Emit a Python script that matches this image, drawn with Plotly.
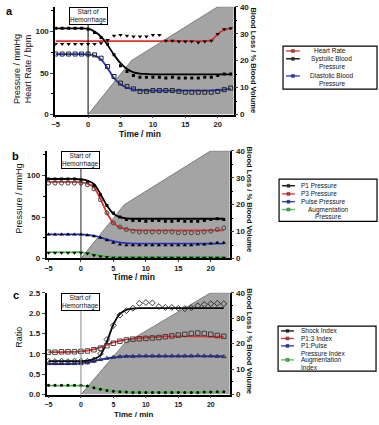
import plotly.graph_objects as go

W, H = 379, 425

# ---------------- data ----------------
t = list(range(-5, 23))

# blood loss (% blood volume)
bl_t = [0, 6.67, 20, 23]
bl_v = [0, 20, 40, 40]

# panel a
hr_obs = [85, 85, 85, 85, 85, 85, 85, 86, 90, 95, 96, 95, 94, 94, 94, 96, 96, 89, 89, 88, 88, 88, 87, 88, 89, 97, 103, 104]
hr_fit = [88.5, 88.5, 88.5, 88.5, 88.5, 88.5, 88.5, 88.5, 88.5, 88.5, 88.5, 88.5, 88.5, 88.5, 88.5, 88.5, 88.5, 88.5, 88.5, 88.5, 88.5, 88.5, 88.5, 88.5, 89.5, 97, 102.5, 103]
sys_obs = [104, 104, 104, 104, 104, 103, 99, 93, 85, 72, 59, 52, 47, 45, 45, 45, 45, 44, 45, 44, 44, 44, 44, 45, 45, 47, 49, 49]
sys_fit = [104, 104, 104, 104, 104, 103.5, 100, 94, 84, 72, 62, 55, 51, 49.5, 49, 48.5, 48.5, 48.5, 48.5, 48.5, 48.5, 48.5, 48.5, 48.5, 48.5, 48.5, 48.5, 48.5]
dia_obs = [73, 73, 73, 73, 73, 73, 72, 68, 58, 46, 38, 34, 31, 28, 28, 29, 29, 29, 29, 28, 27, 27, 27, 27, 27, 28, 30, 32]
dia_fit = [73, 73, 73, 73, 73, 72.5, 71, 66.5, 56, 44, 36.5, 32.5, 30.5, 29.5, 29, 29, 29, 29, 29, 29, 29, 29, 29, 29, 29, 29.5, 30, 31]

# panel b
p1_obs = [96, 96, 96, 96, 96, 95, 93, 88, 77, 64, 55, 50, 47, 46, 46, 45, 46, 46, 45, 45, 46, 45, 45, 45, 46, 47, 48, 47]
p1_fit = [96, 96, 96, 96, 96, 95.5, 94, 90, 78, 64, 54, 50, 48.5, 48, 48, 48, 48, 48, 48, 48, 48, 48, 48, 48, 48, 48, 48, 48]
p3_obs = [91, 91, 91, 91, 91, 91, 89, 84, 71, 55, 43, 38, 35, 33, 32, 32, 32, 32, 32, 32, 31, 31, 31, 31, 32, 33, 35, 37]
p3_fit = [92.5, 92.5, 92.5, 92.5, 92.5, 92, 90.5, 86, 72, 55, 43, 37.5, 35.5, 34.5, 34, 34, 34, 34, 34, 34, 34, 34, 34, 34, 34, 34, 34, 34]
pp_obs = [29, 29, 29, 29, 29, 29, 28, 27, 25, 22, 19, 17, 16, 16, 16, 16, 16, 16, 16, 16, 16, 16, 16, 17, 17, 18, 19, 19]
pp_fit = [29, 29, 29, 29, 29, 29, 28.5, 27.5, 25.5, 23, 21, 19.5, 18.5, 18, 18, 18, 18, 18, 18, 18, 18, 18, 18, 18, 18, 18, 18, 18]
ap_obs = [7, 7, 7, 7, 7, 7, 6, 4, 2.5, 1.5, 1, 1, 1, 1, 1, 1, 1, 1, 1, 1, 1, 1, 1, 1, 1, 1, 1, 1]
ap_fit = [7.5, 7.5, 7.5, 7.5, 7.5, 7.5, 6.5, 5, 3.5, 2.5, 2, 1.5, 1.5, 1.5, 1.5, 1.5, 1.5, 1.5, 1.5, 1.5, 1.5, 1.5, 1.5, 1.5, 1.5, 1.5, 1.5, 1.5]

# panel c
si_obs = [0.82, 0.81, 0.82, 0.81, 0.82, 0.82, 0.82, 0.85, 1.0, 1.35, 1.7, 1.95, 2.06, 2.12, 2.24, 2.26, 2.25, 2.16, 2.14, 2.14, 2.12, 2.11, 2.13, 2.18, 2.21, 2.23, 2.24, 2.23]
si_fit = [0.82, 0.82, 0.82, 0.82, 0.82, 0.82, 0.83, 0.87, 0.97, 1.3, 1.72, 1.98, 2.08, 2.11, 2.12, 2.12, 2.12, 2.12, 2.12, 2.12, 2.12, 2.12, 2.12, 2.12, 2.12, 2.12, 2.12, 2.12]
p13_obs = [1.04, 1.04, 1.05, 1.05, 1.05, 1.06, 1.07, 1.1, 1.14, 1.2, 1.26, 1.31, 1.34, 1.36, 1.37, 1.38, 1.39, 1.4, 1.42, 1.44, 1.46, 1.48, 1.5, 1.51, 1.5, 1.48, 1.45, 1.43]
p13_fit = [1.04, 1.04, 1.04, 1.05, 1.05, 1.06, 1.08, 1.11, 1.16, 1.22, 1.28, 1.32, 1.35, 1.37, 1.39, 1.4, 1.41, 1.42, 1.43, 1.43, 1.43, 1.43, 1.43, 1.43, 1.43, 1.42, 1.42, 1.42]
pi_obs = [0.76, 0.76, 0.76, 0.76, 0.76, 0.76, 0.78, 0.82, 0.86, 0.89, 0.92, 0.93, 0.94, 0.94, 0.95, 0.95, 0.95, 0.95, 0.95, 0.95, 0.95, 0.95, 0.95, 0.96, 0.95, 0.95, 0.94, 0.93]
pi_fit = [0.75, 0.75, 0.75, 0.75, 0.76, 0.77, 0.79, 0.82, 0.86, 0.89, 0.91, 0.93, 0.94, 0.94, 0.94, 0.94, 0.94, 0.94, 0.94, 0.94, 0.94, 0.94, 0.94, 0.94, 0.94, 0.94, 0.94, 0.94]
ai_obs = [0.23, 0.23, 0.23, 0.23, 0.23, 0.23, 0.21, 0.17, 0.13, 0.1, 0.08, 0.07, 0.06, 0.05, 0.05, 0.05, 0.05, 0.05, 0.05, 0.05, 0.05, 0.05, 0.05, 0.05, 0.06, 0.06, 0.07, 0.07]
ai_fit = [0.22, 0.22, 0.22, 0.22, 0.22, 0.22, 0.2, 0.17, 0.14, 0.11, 0.09, 0.075, 0.065, 0.06, 0.06, 0.06, 0.06, 0.06, 0.06, 0.06, 0.06, 0.06, 0.06, 0.06, 0.06, 0.06, 0.06, 0.06]

x_ticks = [-5, 0, 5, 10, 15, 20]
bl_ticks = [0, 10, 20, 30, 40]

# ---------------- style ----------------
RED = "#e0312c"
BLUE = "#2234c4"
GREEN = "#45c445"
BLACK = "#000000"
FONT = "Liberation Sans"


def fx(p):
    return p / W


def fy(p):
    return 1 - p / H


panels = [
    dict(letter="a", x0=51.7, x1=232, top=2.8, bot=113, xr=[-5.08, 22.44], yl=[0, 130],
         ytv=[0, 50, 100], ytt=["0", "50", "100"], minor=25, vcolor="#000",
         ytitle="Pressure / mmHg<br>Heart Rate / bpm", ytx=18.5, yty=66,
         letter_xy=(6, 7), rty=58, xty=132.5, xanch="middle", xfs=8.5,
         series=[
             (hr_fit, hr_obs, RED, dict(symbol="triangle-down", size=4, color=BLACK), "Heart Rate"),
             (sys_fit, sys_obs, BLACK, dict(symbol="square", size=3, color=BLACK), "Systolic Blood Pressure"),
             (dia_fit, dia_obs, BLUE, dict(symbol="square-open", size=4, color="#222", line=dict(width=1)), "Diastolic Blood Pressure"),
         ]),
    dict(letter="b", x0=43, x1=228, top=150, bot=260, xr=[-5.3, 22.9], yl=[0, 130],
         ytv=[0, 50, 100], ytt=["0", "50", "100"], minor=25, vcolor="#222",
         ytitle="Pressure / mmHg", ytx=15, yty=199,
         letter_xy=(12, 155), rty=200, xty=279, xanch="middle", xfs=8.5,
         series=[
             (p1_fit, p1_obs, BLACK, dict(symbol="square", size=3, color=BLACK), "P1 Pressure"),
             (p3_fit, p3_obs, RED, dict(symbol="circle-open", size=4, color="#444", line=dict(width=1)), "P3 Pressure"),
             (pp_fit, pp_obs, BLUE, dict(symbol="triangle-up", size=4, color=BLACK), "Pulse Pressure"),
             (ap_fit, ap_obs, GREEN, dict(symbol="triangle-down", size=4, color=BLACK), "Augmentation Pressure"),
         ]),
    dict(letter="c", x0=43, x1=228, top=295, bot=399, xr=[-5.3, 22.9], yl=[0, 2.5],
         ytv=[0, 0.5, 1.0, 1.5, 2.0, 2.5], ytt=["0.0", "0.5", "1.0", "1.5", "2.0", "2.5"], minor=None, vcolor="#888",
         ytitle="Ratio", ytx=15, yty=340,
         letter_xy=(12, 297), rty=345, xty=425, xanch="bottom", xfs=8,
         series=[
             (si_fit, si_obs, BLACK, dict(symbol="diamond-open", size=4.5, color="#222", line=dict(width=0.9)), "Shock Index"),
             (p13_fit, p13_obs, RED, dict(symbol="square-open", size=4.5, color="#333", line=dict(width=0.9)), "P1:3 Index"),
             (pi_fit, pi_obs, BLUE, dict(symbol="triangle-up-open", size=4, color="#223", line=dict(width=0.9)), "P1:Pulse Pressure Index"),
             (ai_fit, ai_obs, GREEN, dict(symbol="circle", size=3, color=BLACK), "Augmentation Index"),
         ]),
]

fig = go.Figure()
layout = dict(width=W, height=H, margin=dict(l=0, r=0, t=0, b=0), paper_bgcolor="white",
              plot_bgcolor="rgba(0,0,0,0)", showlegend=False,
              font=dict(family=FONT, size=8, color="#111"))
shapes = []
annotations = []

tickfont = dict(family=FONT, size=8, color="#222", weight="bold")

for i, p in enumerate(panels):
    xn = "x" if i == 0 else f"x{i + 1}"
    yb = "y" if i == 0 else f"y{2 * i + 1}"
    yo = f"y{2 * i + 2}"
    xkey = "xaxis" if i == 0 else f"xaxis{i + 1}"
    ybkey = "yaxis" if i == 0 else f"yaxis{2 * i + 1}"
    yokey = f"yaxis{2 * i + 2}"

    layout[xkey] = dict(domain=[fx(p["x0"]), fx(p["x1"])], range=p["xr"], anchor=yb,
                        tickvals=x_ticks, ticks="outside", ticklen=2, tickwidth=1.2,
                        showline=True, linecolor="#000", linewidth=1.5, showgrid=False,
                        zeroline=False,
                        tickfont=dict(family=FONT, size=7.5 if i < 2 else 7, color="#222", weight="bold"))
    layout[ybkey] = dict(domain=[fy(p["bot"]), fy(p["top"])], range=[0, 40], anchor=xn,
                         side="right", tickvals=bl_ticks, ticks="outside", ticklen=3,
                         tickwidth=1.2, showline=True, linecolor="#000", linewidth=1.5,
                         showgrid=False, zeroline=False, tickfont=tickfont,
                         minor=dict(dtick=5, ticks="outside", ticklen=2, tickcolor="#000"))
    yo_ax = dict(overlaying=yb, range=p["yl"], anchor=xn, side="left",
                 tickvals=p["ytv"], ticktext=p["ytt"], ticks="outside", ticklen=3,
                 tickwidth=1.2, showline=True, linecolor="#000", linewidth=1.5,
                 showgrid=False, zeroline=False, tickfont=tickfont)
    if p["minor"]:
        yo_ax["minor"] = dict(dtick=p["minor"], ticks="outside", ticklen=2, tickcolor="#000")
    layout[yokey] = yo_ax

    # blood loss area (right axis)
    fig.add_trace(go.Scatter(x=bl_t, y=bl_v, xaxis=xn, yaxis=yb, mode="lines",
                             fill="tozeroy", fillcolor="#a4a4a4",
                             line=dict(color="#6a6a6a", width=0.8), hoverinfo="skip"))
    # fitted lines
    for fit, obs, col, mk, name in p["series"]:
        fig.add_trace(go.Scatter(x=t, y=fit, xaxis=xn, yaxis=yo, mode="lines", name=name,
                                 line=dict(color=col, width=1.8, shape="spline", smoothing=0.8)))
    for fit, obs, col, mk, name in p["series"]:
        fig.add_trace(go.Scatter(x=t, y=obs, xaxis=xn, yaxis=yo, mode="markers", name=name,
                                 marker=mk))

    # vertical hemorrhage line
    shapes.append(dict(type="line", xref=xn, yref=f"{yb} domain", x0=0, x1=0, y0=0, y1=1,
                       line=dict(color=p["vcolor"], width=1), layer="above"))
    annotations.append(dict(x=0, y=1, xref=xn, yref=f"{yb} domain", xanchor="center",
                            yanchor="top", text="Start of<br>Hemorrhage", showarrow=False,
                            font=dict(family=FONT, size=6.5, color="#111"), bgcolor="white",
                            bordercolor="#000", borderwidth=1, borderpad=0))
    # panel letter
    annotations.append(dict(x=fx(p["letter_xy"][0]), y=fy(p["letter_xy"][1]), xref="paper", yref="paper",
                            text=f"<b>{p['letter']}</b>", showarrow=False, xanchor="center",
                            yanchor="middle", font=dict(family=FONT, size=11, color="#000")))
    # left y title
    annotations.append(dict(x=fx(p["ytx"]), y=fy(p["yty"]), xref="paper", yref="paper",
                            text=p["ytitle"], showarrow=False, textangle=-90, xanchor="center",
                            yanchor="middle", font=dict(family=FONT, size=9, color="#111")))
    # right y title
    annotations.append(dict(x=fx(p["x1"] + 20), y=fy(p["rty"]), xref="paper", yref="paper",
                            text="<b>Blood Loss / % Blood Volume</b>", showarrow=False, textangle=90,
                            xanchor="center", yanchor="middle",
                            font=dict(family=FONT, size=7.5, color="#111")))
    # x title
    annotations.append(dict(x=fx((p["x0"] + p["x1"]) / 2 - 4), y=fy(p["xty"]), xref="paper", yref="paper",
                            text="<b>Time / min</b>", showarrow=False, xanchor="center",
                            yanchor=p["xanch"], borderpad=0,
                            font=dict(family=FONT, size=p["xfs"], color="#111")))

# ---------------- legends (drawn manually) ----------------
# (text lines, colour, symbol y, text x, first text line y, alignment)
legends = [
    dict(box=(282, 43, 377, 87), sx=(285, 299), entries=[
        (["Heart Rate"], RED, 48, 329, 48, "center"),
        (["Systolic Blood", "Pressure"], BLACK, 56, 331, 56, "center"),
        (["Diastolic Blood", "Pressure"], BLUE, 73.5, 331, 73.5, "center"),
    ]),
    dict(box=(278, 179, 377, 222), sx=(281, 294), entries=[
        (["P1 Pressure"], BLACK, 185.7, 298, 185.7, "left"),
        (["P3 Pressure"], RED, 194, 298, 194, "left"),
        (["Pulse Pressure"], BLUE, 202, 298, 202, "left"),
        (["Augmentation", "Pressure"], GREEN, 210, 327, 210, "center"),
    ]),
    dict(box=(277, 329, 376, 375), sx=(280, 293), entries=[
        (["Shock Index"], BLACK, 334, 298, 334, "left"),
        (["P1:3 Index"], RED, 341.7, 298, 341.7, "left"),
        (["P1:Pulse", "Pressure Index"], BLUE, 349.3, 298, 349.3, "left"),
        (["Augmentation", "Index"], GREEN, 363.6, 298, 363.6, "left"),
    ]),
]
for lg in legends:
    bx0, by0, bx1, by1 = lg["box"]
    shapes.append(dict(type="rect", xref="paper", yref="paper", x0=fx(bx0), x1=fx(bx1),
                       y0=fy(by1), y1=fy(by0), line=dict(color="#000", width=1.2)))
    sx0, sx1 = lg["sx"]
    for lines, col, sy, tx, ty, al in lg["entries"]:
        shapes.append(dict(type="line", xref="paper", yref="paper", x0=fx(sx0), x1=fx(sx1),
                           y0=fy(sy), y1=fy(sy), line=dict(color=col, width=1.3)))
        mx = (sx0 + sx1) / 2
        shapes.append(dict(type="rect", xref="paper", yref="paper", x0=fx(mx - 1.5), x1=fx(mx + 1.5),
                           y0=fy(sy + 1.5), y1=fy(sy - 1.5), fillcolor=col if col != BLACK else "#222",
                           line=dict(color="#333", width=0.5)))
        for k, line_txt in enumerate(lines):
            annotations.append(dict(x=fx(tx), y=fy(ty + 7.4 * k), xref="paper", yref="paper",
                                    text=line_txt, showarrow=False,
                                    xanchor="center" if al == "center" else "left",
                                    yanchor="middle", font=dict(family=FONT, size=6.5, color="#111")))

layout["shapes"] = shapes
layout["annotations"] = annotations
fig.update_layout(**layout)
fig.write_html("out.html", config={"displayModeBar": False},
               post_script="document.body.style.margin='0px';document.body.style.overflow='hidden';")
